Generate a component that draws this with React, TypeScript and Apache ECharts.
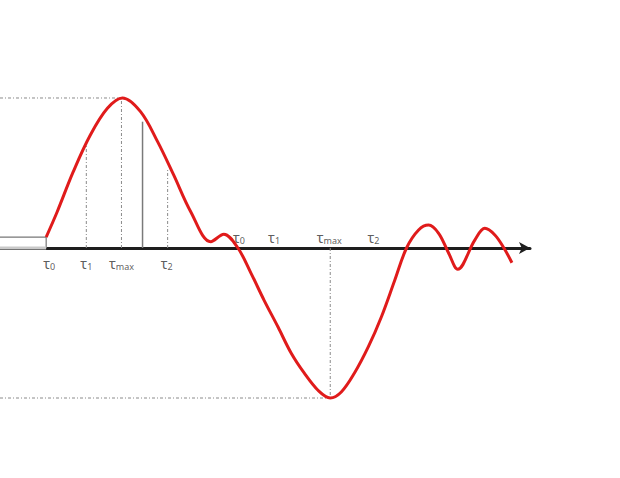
import React, { useEffect, useRef } from "react";
import * as echarts from "echarts";

// signal curve (time, amplitude)
const timeValues = [0, 11, 27, 44, 61, 76, 94, 111, 127, 144, 164, 177, 191, 204, 217, 231, 244, 257, 271, 283, 294, 307, 321, 334, 347, 359, 371, 381, 391, 401, 410, 427, 437, 447, 456, 464];
const signalValues = [0.073, 0.242, 0.509, 0.753, 0.931, 1.0, 0.909, 0.709, 0.487, 0.242, 0.042, 0.091, 0, -0.167, -0.347, -0.527, -0.7, -0.833, -0.95, -1.0, -0.96, -0.835, -0.658, -0.458, -0.22, 0, 0.12, 0.153, 0.098, -0.035, -0.142, 0.053, 0.131, 0.087, 0, -0.098];

// markers
const tauLabels = ["0", "1", "max", "2"];
const tauBelowTimes = [3, 40, 75, 120];
const tauAboveTimes = [192, 227, 282, 326];
const belowLabelLevel = -0.1;
const aboveLabelLevel = 0.073;
const dottedTimes = [40, 75, 121];
const dottedTops = [0.709, 1.0, 0.531];
const solidTime = 96;
const solidTop = 0.842;
const peakTime = 75;
const peakValue = 1.0;
const troughTime = 283;
const troughValue = -1.0;
const initialLevel = 0.073;
const xMin = -46;
const xMax = 482;
const yMin = -1.5333;
const yMax = 1.6533;

export default function App() {
  const ref = useRef<HTMLDivElement>(null);
  useEffect(() => {
    const chart = echarts.init(ref.current!, null, { renderer: "svg" });
    const dotted = { color: "#8a8a8a", width: 1, type: [3, 2, 1, 2] as any };
    const guide = (data: number[][], lineStyle: any) => ({
      type: "line",
      data,
      symbol: "none",
      silent: true,
      lineStyle,
      z: 1,
    });
    const series: any[] = [];
    dottedTimes.forEach((t, i) => {
      series.push(guide([[t, 0], [t, dottedTops[i]]], dotted));
    });
    series.push(guide([[xMin, peakValue], [peakTime, peakValue]], dotted));
    series.push(guide([[xMin, troughValue], [troughTime, troughValue]], dotted));
    series.push(guide([[troughTime, 0], [troughTime, troughValue]], dotted));
    series.push(guide([[solidTime, 0], [solidTime, solidTop]], { color: "#7a7a7a", width: 1.5 }));
    series.push(guide([[xMin, initialLevel], [0, initialLevel], [0, 0]], { color: "#777", width: 1.2 }));
    series.push({ ...guide([[xMin, 0], [0, 0]], { color: "#c9c9c9", width: 3 }), z: 3 });
    series.push({
      type: "line",
      data: timeValues.map((t, i) => [t, signalValues[i]]),
      smooth: 0.35,
      symbol: "none",
      lineStyle: { color: "#e01b1b", width: 3 },
      z: 5,
    });
    const rich = {
      t: { fontSize: 14, color: "#333", fontFamily: "Noto Sans" },
      s: { fontSize: 9, color: "#333", fontFamily: "Noto Sans", padding: [6, 0, 0, 0] },
    };
    const labelData = [
      ...tauBelowTimes.map((t, i) => ({ value: [t, belowLabelLevel], sub: tauLabels[i] })),
      ...tauAboveTimes.map((t, i) => ({ value: [t, aboveLabelLevel], sub: tauLabels[i] })),
    ];
    series.push({
      type: "scatter",
      data: labelData.map((d) => ({ value: d.value, name: d.sub })),
      symbolSize: 1,
      itemStyle: { color: "rgba(0,0,0,0)" },
      label: {
        show: true,
        position: "inside",
        formatter: (p: any) => `{t|τ}{s|${p.name}}`,
        rich,
      },
      z: 6,
    });
    chart.setOption({
      animation: false,
      backgroundColor: "#fff",
      grid: { left: 0, right: 620 - 530, top: 0, bottom: 0 },
      xAxis: {
        type: "value",
        min: xMin,
        max: xMax,
        axisLine: {
          show: true,
          onZero: true,
          symbol: ["none", "arrow"],
          symbolSize: [9, 11],
          lineStyle: { color: "#1e1e1e", width: 3 },
        },
        axisTick: { show: false },
        axisLabel: { show: false },
        splitLine: { show: false },
      },
      yAxis: {
        type: "value",
        min: yMin,
        max: yMax,
        show: false,
        axisLine: { show: false },
        splitLine: { show: false },
      },
      series,
    });
    return () => chart.dispose();
  }, []);
  return (
    <div
      ref={ref}
      style={{ position: "absolute", left: 0, top: 0, width: 620, height: 478 }}
    />
  );
}
